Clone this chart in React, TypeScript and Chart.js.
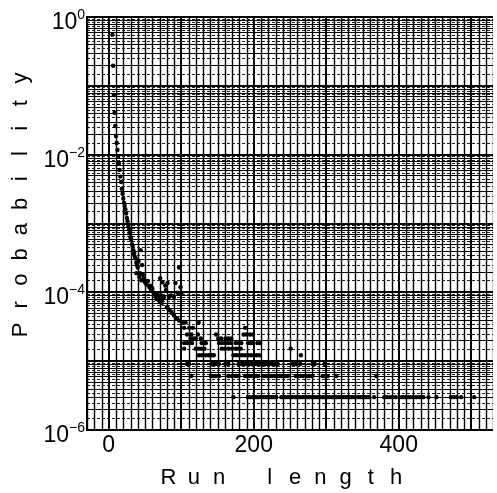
import React, { useEffect, useRef } from 'react';
import { Chart, registerables } from 'chart.js';

Chart.register(...registerables);

// ---- axes ----
const X_MIN = -30;
const X_MAX = 530;
const xTickLabels = [0, 200, 400];
const yTickExponents = [0, -2, -4, -6];
const xTitle = 'Run length';
const yTitle = 'Probability';

// ---- steep head of the distribution ----
const curveRunLength = [5, 6, 7, 8, 9, 10, 11, 12, 13, 14, 15, 16, 17, 18, 19, 20, 21, 22, 23, 24, 25, 26, 27, 28, 29, 30, 31, 32, 33, 34, 35, 36, 37, 38, 39, 40];
const curveProbability = [0.55, 0.196, 0.0736, 0.0407, 0.0261, 0.0187, 0.0148, 0.0117, 0.0093, 0.0075, 0.006, 0.0048, 0.004, 0.0032, 0.0027, 0.0023, 0.002, 0.0018, 0.0016, 0.0014, 0.0012, 0.00108, 0.00092, 0.00082, 0.00072, 0.00063, 0.00058, 0.0005, 0.00047, 0.00041, 0.00037, 0.00033, 0.00031, 0.00027, 0.00025, 0.00023];

// ---- scattered middle cluster ----
const clusterRunLength = [38, 41, 42, 43, 44, 45, 46, 47, 48, 49, 50, 52, 52, 54, 56, 57, 58, 60, 60, 62, 64, 65, 66, 67, 69, 70, 71, 72, 73, 74, 74, 76, 78, 79, 80, 81, 82, 83, 84, 86, 87, 90, 90, 92, 94, 95, 97, 97, 99, 100];
const clusterProbability = [1.9e-4, 2.8e-4, 1.67e-4, 1.9e-4, 4.1e-4, 1.5e-4, 2.5e-4, 1.8e-4, 1.6e-4, 1.5e-4, 1.4e-4, 1.3e-4, 1.45e-4, 1.46e-4, 1.19e-4, 1.25e-4, 1.12e-4, 1.08e-4, 1.15e-4, 9.8e-5, 9.2e-5, 8.6e-5, 8.0e-5, 9.5e-5, 8.5e-5, 7.5e-5, 1.6e-4, 9.0e-5, 7.0e-5, 8.0e-5, 1.4e-4, 8.55e-5, 1.25e-4, 1.08e-4, 6.1e-5, 1.37e-4, 5.8e-5, 8.55e-5, 5.5e-5, 9.0e-5, 5.0e-5, 8.55e-5, 4.6e-5, 1.37e-4, 4.2e-5, 9.9e-5, 2.3e-4, 3.9e-5, 1.19e-4, 9.5e-5];

// ---- quantised tail: probability level of each row ----
const tailProbability = [3.0e-6, 6.1e-6, 9.1e-6, 1.22e-5, 1.52e-5, 1.83e-5, 2.13e-5, 2.44e-5, 3.05e-5, 3.66e-5];
const tail1RunLength = [172, 192, 195, 198, 201, 204, 207, 210, 213, 216, 219, 222, 225, 228, 231, 238, 241, 244, 247, 250, 253, 256, 259, 262, 265, 268, 271, 274, 277, 280, 283, 286, 289, 292, 295, 298, 302, 305, 308, 311, 314, 317, 320, 323, 326, 329, 332, 335, 338, 341, 344, 347, 350, 353, 356, 359, 366, 380, 384, 388, 392, 396, 404, 407, 410, 413, 416, 420, 424, 428, 431, 434, 441, 452, 472, 476, 480, 486, 504];
const tail2RunLength = [114, 141, 144, 147, 152, 165, 170, 175, 179, 188, 191, 194, 197, 200, 203, 206, 213, 216, 219, 222, 225, 229, 233, 236, 238, 243, 247, 258, 261, 264, 268, 274, 277, 281, 295, 298, 302, 314, 369];
const tail3RunLength = [108, 111, 142, 145, 148, 152, 161, 165, 179, 183, 186, 190, 193, 197, 203, 206, 209, 213, 216, 219, 222, 225, 229, 233, 254, 258, 264, 281, 284, 298];
const tail4RunLength = [124, 128, 134, 138, 142, 145, 172, 176, 180, 184, 188, 192, 196, 200, 204, 208, 265];
const tail5RunLength = [104, 120, 124, 128, 132, 156, 160, 165, 170, 175, 179, 182, 251];
const tail6RunLength = [104, 108, 112, 115, 128, 132, 134, 152, 156, 160, 164, 168, 175, 179, 183, 192, 196, 199, 205, 209];
const tail7RunLength = [113, 117, 120, 127, 151, 155, 161, 165, 169];
const tail8RunLength = [108, 114, 123, 148, 186, 190, 195, 199];
const tail10RunLength = [104, 111, 116, 188];
const tail12RunLength = [101, 106, 124];

const tailRows = [tail1RunLength, tail2RunLength, tail3RunLength, tail4RunLength, tail5RunLength, tail6RunLength, tail7RunLength, tail8RunLength, tail10RunLength, tail12RunLength];

const FONT = '"Liberation Sans", Arial, Helvetica, sans-serif';

const paperPlugin = {
  id: 'paper',
  beforeDatasetsDraw(chart: any) {
    const { ctx, chartArea: a, scales } = chart;
    const xs = scales.x;
    const ys = scales.y;
    ctx.save();
    ctx.beginPath();
    ctx.rect(a.left, a.top, a.right - a.left, a.bottom - a.top);
    ctx.clip();
    ctx.strokeStyle = '#000';
    // vertical lines every 10 units, heavier every 100
    for (let v = X_MIN; v <= X_MAX; v += 10) {
      const px = Math.round(xs.getPixelForValue(v));
      const major = v % 100 === 0;
      ctx.lineWidth = major ? 2 : 1.4;
      ctx.setLineDash([]);
      ctx.strokeStyle = '#000';
      const lx = major ? px : px + 0.5;
      ctx.beginPath();
      ctx.moveTo(lx, a.top);
      ctx.lineTo(lx, a.bottom);
      ctx.stroke();
    }
    // horizontal lines: 1..9 solid, halves dotted, decades heavy
    for (let e = -6; e < 0; e++) {
      for (let m = 1; m < 10; m += 0.5) {
        const val = m * Math.pow(10, e);
        const py = Math.round(ys.getPixelForValue(val));
        const decade = m === 1;
        const half = m % 1 !== 0;
        ctx.lineWidth = decade ? 2 : 1.2;
        ctx.setLineDash(half ? [3, 2] : []);
        ctx.strokeStyle = half ? '#222' : '#000';
        const ly = decade ? py : py + 0.5;
        ctx.beginPath();
        ctx.moveTo(a.left, ly);
        ctx.lineTo(a.right, ly);
        ctx.stroke();
      }
    }
    ctx.restore();
  },
  afterDraw(chart: any) {
    const { ctx, chartArea: a, scales } = chart;
    const xs = scales.x;
    const ys = scales.y;
    ctx.save();
    ctx.setLineDash([]);
    ctx.strokeStyle = '#000';
    ctx.lineWidth = 2;
    ctx.beginPath();
    ctx.moveTo(a.right, a.top);
    ctx.lineTo(a.left, a.top);
    ctx.lineTo(a.left, a.bottom);
    ctx.lineTo(a.right, a.bottom);
    ctx.stroke();

    ctx.fillStyle = '#000';
    // y tick labels: 10^n
    for (const e of yTickExponents) {
      const py = ys.getPixelForValue(Math.pow(10, e));
      const expText = e === 0 ? '0' : '\u2212' + Math.abs(e);
      ctx.font = `14px ${FONT}`;
      ctx.textAlign = 'right';
      ctx.textBaseline = 'alphabetic';
      const expW = ctx.measureText(expText).width;
      ctx.fillText(expText, 85, py + 2);
      ctx.font = `23px ${FONT}`;
      ctx.fillText('10', 85 - expW, py + 12);
    }
    // x tick labels
    ctx.font = `23px ${FONT}`;
    ctx.textAlign = 'center';
    for (const v of xTickLabels) {
      ctx.fillText(String(v), xs.getPixelForValue(v), 452);
    }
    // titles, letter-spaced
    ctx.font = `22px ${FONT}`;
    ctx.textAlign = 'left';
    const pitch = 25.3;
    let cx = 168.5;
    for (const ch of xTitle) {
      if (ch === ' ') { cx += pitch; continue; }
      const w = ctx.measureText(ch).width;
      ctx.fillText(ch, cx - w / 2, 484);
      cx += pitch;
    }
    let cy = 330;
    for (const ch of yTitle) {
      const w = ctx.measureText(ch).width;
      ctx.save();
      ctx.translate(27, cy);
      ctx.rotate(-Math.PI / 2);
      ctx.fillText(ch, -w / 2, 0);
      ctx.restore();
      cy -= 25.2;
    }
    ctx.restore();
  },
};

export default function App() {
  const ref = useRef<HTMLCanvasElement>(null);
  useEffect(() => {
    const canvas = ref.current;
    if (!canvas) return;
    const points: { x: number; y: number }[] = [];
    curveRunLength.forEach((x, i) => points.push({ x, y: curveProbability[i] }));
    clusterRunLength.forEach((x, i) => points.push({ x, y: clusterProbability[i] }));
    tailRows.forEach((row, k) => row.forEach((x) => points.push({ x, y: tailProbability[k] })));

    const chart = new Chart(canvas, {
      type: 'scatter',
      data: {
        datasets: [
          {
            data: points,
            backgroundColor: '#000',
            borderColor: '#000',
            pointRadius: 2.2,
            pointBorderWidth: 0,
          },
        ],
      },
      options: {
        animation: false,
        responsive: false,
        devicePixelRatio: 1,
        layout: { padding: { top: 17, left: 0, right: 0, bottom: 0 } },
        plugins: { legend: { display: false }, tooltip: { enabled: false } },
        scales: {
          x: {
            type: 'linear',
            min: X_MIN,
            max: X_MAX,
            grid: { display: false },
            border: { display: false },
            ticks: { display: false },
            afterFit: (s: any) => { s.height = 63; },
          },
          y: {
            type: 'logarithmic',
            min: 1e-6,
            max: 1,
            grid: { display: false },
            border: { display: false },
            ticks: { display: false },
            afterFit: (s: any) => { s.width = 87; },
          },
        },
      },
      plugins: [paperPlugin],
    });
    return () => chart.destroy();
  }, []);
  return (
    <div style={{ position: 'fixed', left: 0, top: 0, width: 497, height: 493, background: '#fff' }}>
      <canvas ref={ref} width={497} height={493} style={{ display: 'block', width: 497, height: 493 }} />
    </div>
  );
}
